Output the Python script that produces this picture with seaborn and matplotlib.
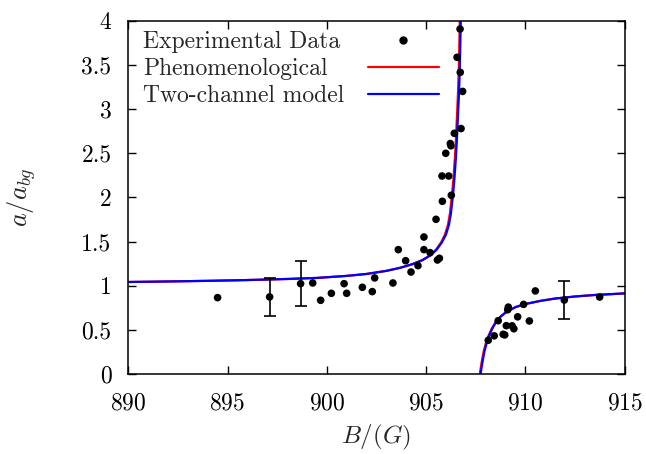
import matplotlib
matplotlib.use("Agg")
import matplotlib.pyplot as plt
from matplotlib.lines import Line2D
import pandas as pd
import seaborn as sns

# measured points (B in G, a/a_bg)
exp_B = [894.5, 897.12, 898.68, 899.29, 899.69, 900.23, 900.87, 901.0, 901.79,
         902.29, 902.41, 903.33, 903.6, 903.97, 904.24, 904.59, 904.89, 904.89,
         905.2, 905.5, 905.57, 905.67, 905.82, 906.27, 905.8, 906.14, 905.99,
         906.22, 906.25, 906.42, 906.76, 906.84, 906.71, 906.56, 906.72,
         908.13, 908.43, 908.63, 908.88, 908.96, 909.04, 909.11, 909.14, 909.33,
         909.42, 909.61, 909.91, 910.2, 910.5, 911.96, 913.74]
exp_ratio = [0.867, 0.875, 1.025, 1.033, 0.837, 0.916, 1.025, 0.916, 0.984,
             0.935, 1.09, 1.033, 1.41, 1.285, 1.157, 1.229, 1.553, 1.41,
             1.376, 1.753, 1.293, 1.312, 1.957, 2.025, 2.243, 2.243, 2.5,
             2.61, 2.585, 2.726, 2.78, 3.2, 3.906, 3.586, 3.416,
             0.385, 0.435, 0.606, 0.452, 0.445, 0.55, 0.73, 0.76, 0.548,
             0.515, 0.65, 0.791, 0.603, 0.943, 0.84, 0.874]

# error bars on a few points
err_B = [897.12, 898.68, 911.96]
err_ratio = [0.875, 1.025, 0.84]
err_size = [0.215, 0.255, 0.21]

# model curves (two branches around the resonance)
phen_B_low = [890, 892, 894, 896, 898, 899.5, 901, 902, 903, 903.7, 904.3, 904.8,
              905.2, 905.5, 905.75, 905.95, 906.1, 906.2, 906.3, 906.38, 906.45,
              906.5, 906.55, 906.6, 906.64, 906.67, 906.7, 906.72]
phen_r_low = [1.044, 1.05, 1.057, 1.066, 1.078, 1.09, 1.113, 1.135, 1.17, 1.205,
              1.245, 1.29, 1.345, 1.41, 1.49, 1.58, 1.69, 1.82, 2.02, 2.22, 2.45,
              2.65, 2.9, 3.15, 3.4, 3.7, 4.05, 4.3]
phen_B_high = [907.66, 907.7, 907.8, 907.9, 908.0, 908.15, 908.3, 908.5, 908.75,
               909.0, 909.5, 910.0, 910.75, 911.5, 912.5, 913.5, 915.0]
phen_r_high = [-0.06, 0.0, 0.14, 0.26, 0.345, 0.44, 0.515, 0.59, 0.655, 0.70,
               0.76, 0.795, 0.83, 0.857, 0.88, 0.897, 0.915]

two_B_low = [890, 892, 894, 896, 898, 899.5, 901, 902, 903, 903.7, 904.3, 904.8,
             905.22, 905.53, 905.79, 906.0, 906.15, 906.25, 906.35, 906.43, 906.5,
             906.55, 906.6, 906.65, 906.69, 906.72, 906.75, 906.77]
two_r_low = phen_r_low
two_B_high = [907.7, 907.74, 907.84, 907.94, 908.04, 908.18, 908.33, 908.52, 908.77,
              909.02, 909.5, 910.0, 910.75, 911.5, 912.5, 913.5, 915.0]
two_r_high = phen_r_high

labels = ["Experimental Data", "Phenomenological", "Two-channel model"]

curves = pd.concat([
    pd.DataFrame({"B": phen_B_low, "ratio": phen_r_low, "model": labels[1], "branch": "phen_low"}),
    pd.DataFrame({"B": phen_B_high, "ratio": phen_r_high, "model": labels[1], "branch": "phen_high"}),
    pd.DataFrame({"B": two_B_low, "ratio": two_r_low, "model": labels[2], "branch": "two_low"}),
    pd.DataFrame({"B": two_B_high, "ratio": two_r_high, "model": labels[2], "branch": "two_high"}),
])
points = pd.DataFrame({"B": exp_B, "ratio": exp_ratio})

sns.set_theme(style="ticks")
plt.rcParams["font.family"] = ["cmr10", "DejaVu Serif"]
plt.rcParams["mathtext.fontset"] = "cm"
plt.rcParams["axes.formatter.use_mathtext"] = True
fs = 17

fig = plt.figure(figsize=(6.46, 4.54), dpi=100)
ax = fig.add_axes([0.1985, 0.1756, 0.7685, 0.7788])

colors = {labels[1]: "#ff0000", labels[2]: "#0000ff"}
sns.lineplot(data=curves, x="B", y="ratio", hue="model", units="branch",
             estimator=None, sort=False, palette=colors, linewidth=1.6,
             legend=False, ax=ax)
sns.scatterplot(data=points, x="B", y="ratio", color="black", s=30,
                edgecolor="none", legend=False, ax=ax, zorder=3)
ax.errorbar(err_B, err_ratio, yerr=err_size, fmt="none", ecolor="black",
            elinewidth=1.2, capsize=4, capthick=1.2, zorder=3)

ax.set_xlim(890, 915)
ax.set_ylim(0, 4)
ax.set_xticks([890, 895, 900, 905, 910, 915])
ax.set_yticks([0, 0.5, 1, 1.5, 2, 2.5, 3, 3.5, 4])
ax.set_yticklabels(["0", "0.5", "1", "1.5", "2", "2.5", "3", "3.5", "4"])
ax.tick_params(direction="in", length=6, width=1, top=True, right=True,
               labelsize=fs, colors="black")
ax.tick_params(axis="x", pad=13)
ax.tick_params(axis="y", pad=12)
for sp in ax.spines.values():
    sp.set_linewidth(1.1)
    sp.set_color("black")

ax.set_xlabel(r"$B/(G)$", fontsize=18, labelpad=6)
ax.set_ylabel(r"$a/a_{bg}$", fontsize=19, labelpad=31)

# key: text left-aligned, symbols in their own column to the right
blank = [Line2D([], [], linestyle="none")] * 3
leg_text = ax.legend(blank, labels, loc="center left", bbox_to_anchor=(0.03, 0.8626),
                     frameon=False, fontsize=fs, handlelength=0, handletextpad=0,
                     labelspacing=0.2, borderpad=0, borderaxespad=0)
ax.add_artist(leg_text)
handles = [
    Line2D([], [], marker="o", linestyle="none", color="black", markersize=5),
    Line2D([], [], color="#ff0000", linewidth=1.6),
    Line2D([], [], color="#0000ff", linewidth=1.6),
]
ax.legend(handles, labels, loc="center left", bbox_to_anchor=(0.483, 0.8626),
          frameon=False, fontsize=fs, handlelength=3.0, handletextpad=0,
          labelcolor="none", labelspacing=0.2, borderpad=0, borderaxespad=0)

fig.savefig("out.png", dpi=100)
